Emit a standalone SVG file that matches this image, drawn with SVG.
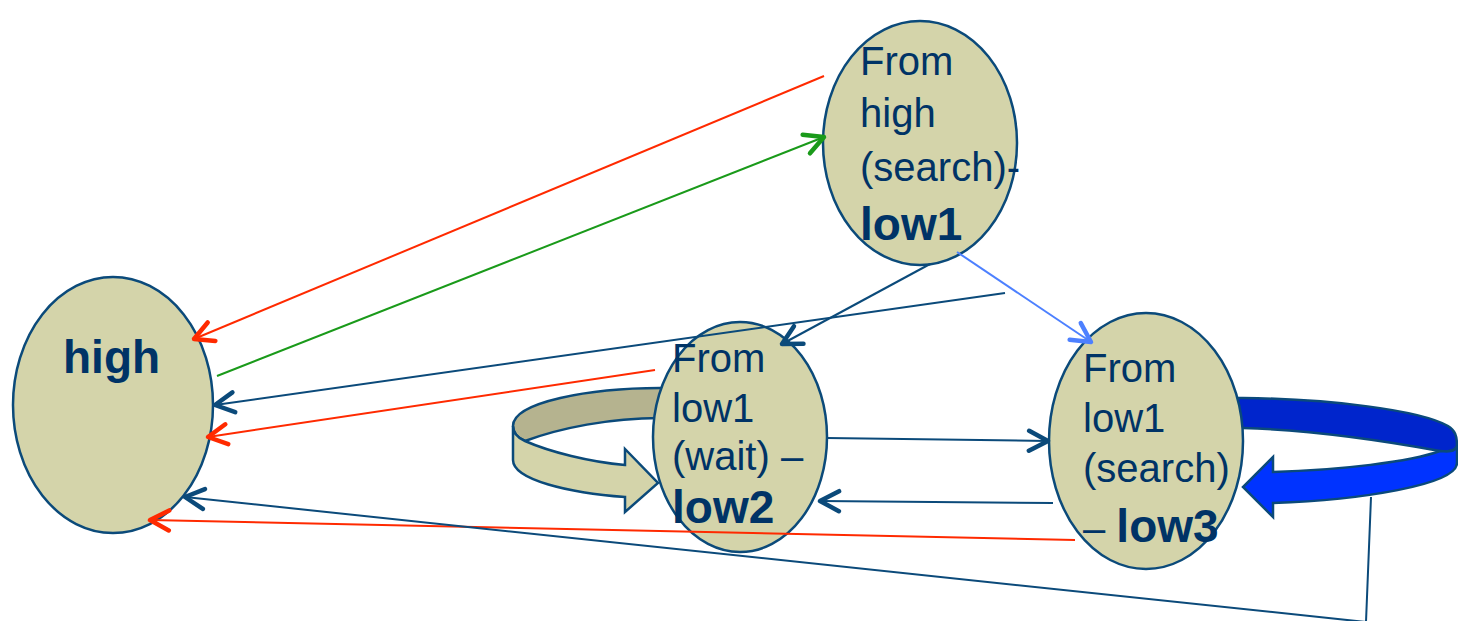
<svg xmlns="http://www.w3.org/2000/svg" width="1458" height="621" viewBox="0 0 1458 621">
  <style>
    .node { fill: #D4D4AA; stroke: #0B4A7A; stroke-width: 2.5; }
    .txt { font-family: "Liberation Sans", Arial, sans-serif; font-size: 40px; fill: #003366; }
    .bold { font-weight: bold; font-size: 46px; }
    .edge { fill: none; stroke-width: 2; }
    .red { stroke: #FF2A00; }
    .green { stroke: #1A9A1A; }
    .navy { stroke: #0B4A7A; }
    .sky { stroke: #4D80FF; }
    .ring { stroke: #0B4A7A; stroke-width: 2.5; stroke-linejoin: miter; }
  </style>
  <defs>
    <marker id="ah-red" markerUnits="userSpaceOnUse" markerWidth="44" markerHeight="44" viewBox="-22 -22 44 44" refX="0" refY="0" orient="auto">
      <path d="M -19,-10 L 0,0 L -19,10" fill="none" stroke="#FF2A00" stroke-width="4.5" stroke-linecap="round" stroke-linejoin="round"/>
    </marker>
    <marker id="ah-green" markerUnits="userSpaceOnUse" markerWidth="44" markerHeight="44" viewBox="-22 -22 44 44" refX="0" refY="0" orient="auto">
      <path d="M -19,-10 L 0,0 L -19,10" fill="none" stroke="#1A9A1A" stroke-width="4.5" stroke-linecap="round" stroke-linejoin="round"/>
    </marker>
    <marker id="ah-navy" markerUnits="userSpaceOnUse" markerWidth="44" markerHeight="44" viewBox="-22 -22 44 44" refX="0" refY="0" orient="auto">
      <path d="M -19,-10 L 0,0 L -19,10" fill="none" stroke="#0B4A7A" stroke-width="4.5" stroke-linecap="round" stroke-linejoin="round"/>
    </marker>
    <marker id="ah-sky" markerUnits="userSpaceOnUse" markerWidth="44" markerHeight="44" viewBox="-22 -22 44 44" refX="0" refY="0" orient="auto">
      <path d="M -19,-10 L 0,0 L -19,10" fill="none" stroke="#4D80FF" stroke-width="4.5" stroke-linecap="round" stroke-linejoin="round"/>
    </marker>
  </defs>

  <!-- self loop around low2 (drawn behind the node) -->
  <g id="loop-low2">
    <path class="ring" fill="#B5B38F" d="M 665,388 L 660,388 C 590,388 513,402 513,426 C 513,433 518,438 525,441 C 560,428 610,418 660,418 L 665,418 Z"/>
    <path class="ring" fill="#D4D4AA" d="M 513,426 C 513,434 518,438 525,441 C 550,452 590,462 625,465 L 625,449 L 658,483 L 625,512 L 625,497 C 570,493 513,480 513,460 Z"/>
  </g>

  <!-- self loop around low3 (drawn behind the node) -->
  <g id="loop-low3">
    <path class="ring" fill="#0025CC" d="M 1236,398 L 1243,398 C 1330,399 1420,410 1448,426 C 1455,430 1457,436 1457,446 C 1455,452 1448,452 1440,451 C 1380,440 1310,430 1243,428 L 1236,428 Z"/>
    <path class="ring" fill="#0033FF" d="M 1440,451 C 1448,452 1455,452 1457,446 L 1457,463 C 1457,485 1360,500 1273,503 L 1273,517 L 1243,487 L 1273,457 L 1273,472 C 1340,470 1410,462 1440,451 Z"/>
  </g>

  <g id="high">
    <ellipse class="node" cx="113" cy="405" rx="100" ry="128"/>
    <text class="txt bold" x="63" y="373">high</text>
  </g>

  <g id="low1">
    <ellipse class="node" cx="920" cy="143" rx="97" ry="122"/>
    <text class="txt" x="860" y="75">From</text>
    <text class="txt" x="860" y="127">high</text>
    <text class="txt" x="860" y="181">(search)-</text>
    <text class="txt bold" x="860" y="240">low1</text>
  </g>

  <g id="low2">
    <ellipse class="node" cx="740" cy="437" rx="87" ry="115"/>
    <text class="txt" x="672" y="372">From</text>
    <text class="txt" x="672" y="422">low1</text>
    <text class="txt" x="672" y="470">(wait) –</text>
    <text class="txt bold" x="672" y="523">low2</text>
  </g>

  <g id="low3">
    <ellipse class="node" cx="1146" cy="441" rx="97" ry="128"/>
    <text class="txt" x="1083" y="382">From</text>
    <text class="txt" x="1083" y="432">low1</text>
    <text class="txt" x="1083" y="482">(search)</text>
    <text class="txt" x="1083" y="542">– <tspan class="bold">low3</tspan></text>
  </g>

  <g id="connectors">
    <line class="edge red" x1="824" y1="76" x2="194" y2="339" marker-end="url(#ah-red)"/>
    <line class="edge green" x1="217" y1="376" x2="824" y2="137" marker-end="url(#ah-green)"/>
    <line class="edge sky" x1="957" y1="252" x2="1091" y2="342" marker-end="url(#ah-sky)"/>
    <line class="edge navy" x1="930" y1="264" x2="782" y2="344" marker-end="url(#ah-navy)"/>
    <line class="edge navy" x1="1005" y1="293" x2="215" y2="405" marker-end="url(#ah-navy)"/>
    <line class="edge red" x1="655" y1="370" x2="208" y2="437" marker-end="url(#ah-red)"/>
    <line class="edge navy" x1="827" y1="438" x2="1048" y2="441" marker-end="url(#ah-navy)"/>
    <line class="edge navy" x1="1053" y1="503" x2="820" y2="501" marker-end="url(#ah-navy)"/>
    <line class="edge red" x1="1075" y1="540" x2="150" y2="520" marker-end="url(#ah-red)"/>
    <polyline class="edge navy" points="1371,497 1366,622 185,497" marker-end="url(#ah-navy)"/>
  </g>
</svg>
